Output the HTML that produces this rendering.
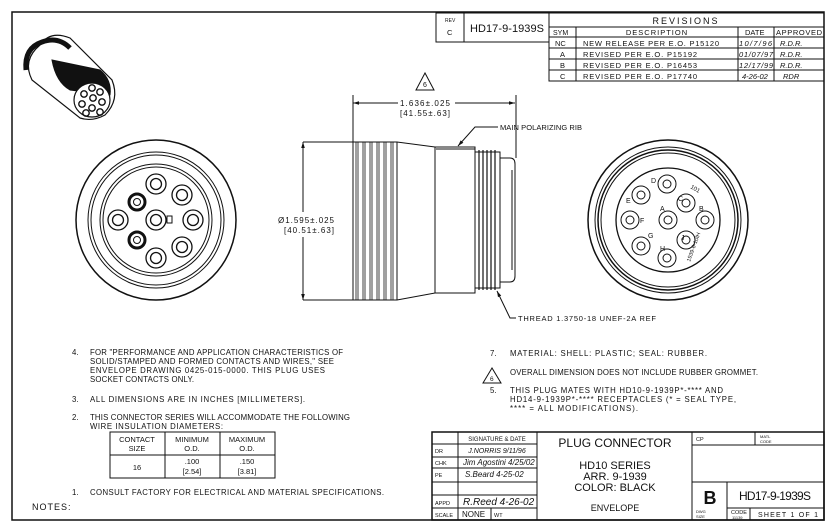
<!DOCTYPE html>
<html><head><meta charset="utf-8"><style>
html,body{margin:0;padding:0;background:#fff;}
svg{display:block;}
text{font-family:"Liberation Sans",sans-serif;fill:#111;}
</style></head><body>
<svg width="836" height="530" viewBox="0 0 836 530" xmlns="http://www.w3.org/2000/svg">
<defs>
<marker id="ar" viewBox="0 0 10 10" refX="10" refY="5" markerWidth="8" markerHeight="6" orient="auto-start-reverse"><path d="M0 2 L10 5 L0 8 Z" fill="#111"/></marker>
</defs>
<g fill="none" stroke="#111" stroke-width="1">
<rect x="12" y="12" width="812" height="508" stroke-width="1.5"/>
<rect x="436" y="13" width="113" height="29"/>
<line x1="464" y1="13" x2="464" y2="42"/>
<rect x="549" y="13" width="275" height="68"/>
<line x1="549" y1="27" x2="824" y2="27"/>
<line x1="549" y1="37" x2="824" y2="37"/>
<line x1="549" y1="48" x2="824" y2="48"/>
<line x1="549" y1="59" x2="824" y2="59"/>
<line x1="549" y1="70" x2="824" y2="70"/>
<line x1="576" y1="27" x2="576" y2="81"/>
<line x1="738" y1="27" x2="738" y2="81"/>
<line x1="774" y1="27" x2="774" y2="81"/>

<line x1="353" y1="103" x2="398" y2="103" marker-start="url(#ar)"/>
<line x1="455" y1="103" x2="515" y2="103" marker-end="url(#ar)"/>
<line x1="353" y1="95" x2="353" y2="142"/>
<line x1="516" y1="95" x2="516" y2="158"/>
<line x1="303" y1="142" x2="353" y2="142"/>
<line x1="303" y1="300" x2="353" y2="300"/>
<line x1="303" y1="142" x2="303" y2="212" marker-start="url(#ar)"/>
<line x1="303" y1="237" x2="303" y2="300" marker-end="url(#ar)"/>
<path d="M353 142 H397 L435 147 H475 V293 H435 L397 300 H353 Z"/>
<line x1="397" y1="142" x2="397" y2="300"/>
<line x1="435" y1="147" x2="435" y2="293"/>
<line x1="436" y1="149" x2="475" y2="149"/>
<g stroke-width="0.8">
<line x1="356" y1="142" x2="356" y2="300"/><line x1="358" y1="142" x2="358" y2="300"/>
<line x1="363" y1="142" x2="363" y2="300"/><line x1="365" y1="142" x2="365" y2="300"/>
<line x1="370" y1="142" x2="370" y2="300"/><line x1="372" y1="142" x2="372" y2="300"/>
<line x1="377" y1="142" x2="377" y2="300"/><line x1="379" y1="142" x2="379" y2="300"/>
<line x1="384" y1="142" x2="384" y2="300"/><line x1="386" y1="142" x2="386" y2="300"/>
<line x1="391" y1="142" x2="391" y2="300"/><line x1="393" y1="142" x2="393" y2="300"/>
</g>
<path d="M475 152 H500 V288 H475"/>
<g stroke-width="1.2">
<line x1="479" y1="150" x2="479" y2="290"/><line x1="483" y1="150" x2="483" y2="290"/>
<line x1="487" y1="150" x2="487" y2="290"/><line x1="491" y1="150" x2="491" y2="290"/>
<line x1="495" y1="150" x2="495" y2="290"/>
</g>
<path d="M500 158 H510 Q515 158 515 164 V276 Q515 282 510 282 H500"/>
<line x1="512" y1="170" x2="512" y2="270"/>
<polyline points="498,127 475,127 458,146" marker-end="url(#ar)"/>
<polyline points="516,318 510,318 497,291" marker-end="url(#ar)"/>
<polygon points="425,73 416,90 434,90"/>
<polygon points="492,368 483,383 501,383"/>

<circle cx="156" cy="220" r="80" stroke-width="1.5"/>
<circle cx="156" cy="220" r="68"/>
<circle cx="156" cy="220" r="65"/>
<circle cx="156" cy="220" r="56"/>
<circle cx="156" cy="220" r="53"/>
<rect x="167" y="216" width="5" height="7"/>
<g stroke-width="1.3">
<circle cx="156" cy="220" r="10"/><circle cx="156" cy="220" r="5.5"/>
<circle cx="156" cy="184" r="10"/><circle cx="156" cy="184" r="5.5"/>
<circle cx="182" cy="195" r="10"/><circle cx="182" cy="195" r="5.5"/>
<circle cx="193" cy="220" r="10"/><circle cx="193" cy="220" r="5.5"/>
<circle cx="182" cy="247" r="10"/><circle cx="182" cy="247" r="5.5"/>
<circle cx="156" cy="258" r="10"/><circle cx="156" cy="258" r="5.5"/>
<circle cx="118" cy="220" r="10"/><circle cx="118" cy="220" r="5.5"/>
</g>
<circle cx="137" cy="202" r="8" stroke-width="3"/><circle cx="137" cy="202" r="3.5"/>
<circle cx="137" cy="240" r="8" stroke-width="3"/><circle cx="137" cy="240" r="3.5"/>

<circle cx="668" cy="220" r="80" stroke-width="1.5"/>
<circle cx="668" cy="220" r="73"/>
<circle cx="668" cy="220" r="70" stroke-width="1.5"/>
<circle cx="668" cy="220" r="67"/>
<circle cx="668" cy="220" r="52" stroke-width="1.3"/>
<g>
<circle cx="668" cy="220" r="9"/><circle cx="668" cy="220" r="4"/>
<circle cx="667" cy="184" r="9"/><circle cx="667" cy="184" r="4"/>
<circle cx="686" cy="203" r="9"/><circle cx="686" cy="203" r="4"/>
<circle cx="705" cy="220" r="9"/><circle cx="705" cy="220" r="4"/>
<circle cx="686" cy="240" r="9"/><circle cx="686" cy="240" r="4"/>
<circle cx="667" cy="258" r="9"/><circle cx="667" cy="258" r="4"/>
<circle cx="641" cy="246" r="9"/><circle cx="641" cy="246" r="4"/>
<circle cx="630" cy="220" r="9"/><circle cx="630" cy="220" r="4"/>
<circle cx="641" cy="195" r="9"/><circle cx="641" cy="195" r="4"/>
</g>

<path d="M40 45 Q50 30 70 38 L112 80 Q120 100 105 115 Q92 122 80 118 L32 80 Q22 60 40 45 Z" stroke-width="1.2"/>
<path d="M26 70 Q24 48 42 42 Q58 36 70 48" stroke-width="5"/>
<path d="M52 60 L100 70 Q112 80 110 95 L70 90 Q56 82 52 60 Z" fill="#111" stroke-width="1"/>
<ellipse cx="92" cy="100" rx="18" ry="17" fill="#fff" stroke-width="1.2"/>
<g stroke-width="1.4">
<circle cx="92" cy="88" r="3.2"/><circle cx="100" cy="92" r="3.2"/><circle cx="84" cy="94" r="3.2"/>
<circle cx="93" cy="98" r="3.2"/><circle cx="102" cy="102" r="3.2"/><circle cx="82" cy="104" r="3.2"/>
<circle cx="92" cy="108" r="3.2"/><circle cx="100" cy="112" r="3.2"/><circle cx="86" cy="113" r="3.2"/>
</g>

<rect x="110" y="432" width="165" height="46"/>
<line x1="110" y1="455" x2="275" y2="455"/>
<line x1="165" y1="432" x2="165" y2="478"/>
<line x1="220" y1="432" x2="220" y2="478"/>

<rect x="432" y="432" width="392" height="88" stroke-width="1.5"/>
<line x1="458" y1="432" x2="458" y2="520"/>
<line x1="537" y1="432" x2="537" y2="520"/>
<line x1="692" y1="432" x2="692" y2="520"/>
<line x1="432" y1="444" x2="537" y2="444"/>
<line x1="432" y1="457" x2="537" y2="457"/>
<line x1="432" y1="468" x2="537" y2="468"/>
<line x1="432" y1="482" x2="537" y2="482"/>
<line x1="432" y1="495" x2="537" y2="495"/>
<line x1="432" y1="508" x2="537" y2="508"/>
<line x1="491" y1="508" x2="491" y2="520"/>
<line x1="692" y1="445" x2="824" y2="445"/>
<line x1="755" y1="432" x2="755" y2="445"/>
<line x1="692" y1="482" x2="824" y2="482"/>
<line x1="727" y1="482" x2="727" y2="520"/>
<line x1="727" y1="508" x2="824" y2="508"/>
<line x1="750" y1="508" x2="750" y2="520"/>
</g>

<g font-size="7.5">
<text x="445" y="22" font-size="5">REV</text>
<text x="447" y="35">C</text>
<text x="470" y="32" font-size="11" textLength="74">HD17-9-1939S</text>
<text x="686" y="24" font-size="9" text-anchor="middle" letter-spacing="2">REVISIONS</text>
<text x="553" y="35" font-size="7">SYM</text>
<text x="657" y="35" text-anchor="middle" letter-spacing="1">DESCRIPTION</text>
<text x="745" y="35">DATE</text>
<text x="776" y="35" textLength="46">APPROVED</text>
<text x="555" y="46">NC</text><text x="583" y="46" textLength="136">NEW RELEASE PER E.O. P15120</text>
<text x="560" y="57">A</text><text x="583" y="57" textLength="114">REVISED PER E.O. P15192</text>
<text x="560" y="68">B</text><text x="583" y="68" textLength="114">REVISED PER E.O. P16453</text>
<text x="560" y="79">C</text><text x="583" y="79" textLength="114">REVISED PER E.O. P17740</text>
<g font-style="italic">
<text x="739" y="46" textLength="33">10/7/96</text><text x="780" y="46">R.D.R.</text>
<text x="739" y="57" textLength="34">01/07/97</text><text x="780" y="57">R.D.R.</text>
<text x="739" y="68" textLength="34">12/17/99</text><text x="780" y="68">R.D.R.</text>
<text x="742" y="79">4-26-02</text><text x="783" y="79">RDR</text>
</g>
</g>

<g font-size="8">
<text x="425" y="87" font-size="7" text-anchor="middle">6</text>
<text x="425" y="106" text-anchor="middle" textLength="50">1.636±.025</text>
<text x="425" y="116" text-anchor="middle" textLength="50">[41.55±.63]</text>
<text x="278" y="223" textLength="56">Ø1.595±.025</text>
<text x="284" y="233" textLength="50">[40.51±.63]</text>
<text x="500" y="130" textLength="82" font-size="7.5">MAIN POLARIZING RIB</text>
<text x="518" y="321" textLength="138" font-size="7.5">THREAD 1.3750-18 UNEF-2A REF</text>
</g>
<g font-size="7">
<text x="651" y="183">D</text><text x="678" y="201">C</text><text x="699" y="211">B</text>
<text x="660" y="211">A</text><text x="626" y="203">E</text><text x="640" y="223">F</text>
<text x="648" y="238">G</text><text x="681" y="240">J</text><text x="660" y="251">H</text>
<text x="690" y="188" font-size="6" transform="rotate(30 690 188)">101</text>
<text x="690" y="262" font-size="5.5" transform="rotate(-70 690 262)">1939-6-10IH</text>
</g>

<g font-size="7.8">
<text x="72" y="355">4.</text>
<text x="90" y="355" textLength="253">FOR "PERFORMANCE AND APPLICATION CHARACTERISTICS OF</text>
<text x="90" y="364" textLength="244">SOLID/STAMPED AND FORMED CONTACTS AND WIRES," SEE</text>
<text x="90" y="373" textLength="235">ENVELOPE DRAWING 0425-015-0000.  THIS PLUG USES</text>
<text x="90" y="382" textLength="104">SOCKET CONTACTS ONLY.</text>
<text x="72" y="402">3.</text>
<text x="90" y="402" textLength="215">ALL DIMENSIONS ARE IN INCHES [MILLIMETERS].</text>
<text x="72" y="420">2.</text>
<text x="90" y="420" textLength="260">THIS CONNECTOR SERIES WILL ACCOMMODATE THE FOLLOWING</text>
<text x="90" y="429" textLength="133">WIRE INSULATION DIAMETERS:</text>
<g font-size="7.5" text-anchor="middle">
<text x="137" y="442">CONTACT</text><text x="137" y="451">SIZE</text>
<text x="192" y="442">MINIMUM</text><text x="192" y="451">O.D.</text>
<text x="247" y="442">MAXIMUM</text><text x="247" y="451">O.D.</text>
<text x="137" y="470">16</text>
<text x="192" y="464">.100</text><text x="192" y="474">[2.54]</text>
<text x="247" y="464">.150</text><text x="247" y="474">[3.81]</text>
</g>
<text x="72" y="495">1.</text>
<text x="90" y="495" textLength="294">CONSULT FACTORY FOR ELECTRICAL AND MATERIAL SPECIFICATIONS.</text>
<text x="32" y="510" font-size="9" letter-spacing="1">NOTES:</text>
</g>
<g font-size="7.8">
<text x="490" y="356">7.</text>
<text x="510" y="356" textLength="197">MATERIAL: SHELL: PLASTIC; SEAL: RUBBER.</text>
<text x="490" y="381" font-size="6.5">6</text>
<text x="510" y="375" textLength="248">OVERALL DIMENSION DOES NOT INCLUDE RUBBER GROMMET.</text>
<text x="490" y="393">5.</text>
<text x="510" y="393" textLength="213">THIS PLUG MATES WITH HD10-9-1939P*-**** AND</text>
<text x="510" y="402" textLength="226">HD14-9-1939P*-**** RECEPTACLES (* = SEAL TYPE,</text>
<text x="510" y="411" textLength="128">**** = ALL MODIFICATIONS).</text>
</g>

<g font-size="5.5">
<text x="497" y="441" text-anchor="middle" font-size="6">SIGNATURE &amp; DATE</text>
<text x="435" y="453">DR</text><text x="497" y="453" text-anchor="middle" font-style="italic" font-size="7">J.NORRIS 9/11/96</text>
<text x="435" y="465">CHK</text><text x="463" y="465" font-style="italic" font-size="8">Jim Agostini 4/25/02</text>
<text x="435" y="477">PE</text><text x="465" y="477" font-style="italic" font-size="8">S.Beard 4-25-02</text>
<text x="435" y="505">APPD</text><text x="463" y="505" font-style="italic" font-size="10">R.Reed 4-26-02</text>
<text x="435" y="517">SCALE</text><text x="462" y="517" font-size="8">NONE</text><text x="494" y="517">WT</text>
<text x="696" y="441">CP</text><text x="760" y="438" font-size="4">MATL</text><text x="760" y="443" font-size="4">CODE</text>
<text x="696" y="513" font-size="4">DWG</text><text x="696" y="518" font-size="4">SIZE</text>
<text x="731" y="514" font-size="5.5">CODE</text><text x="732" y="519" font-size="4">11139</text>
<text x="758" y="517" font-size="7" textLength="60">SHEET  1  OF  1</text>
</g>
<g font-size="11" text-anchor="middle">
<text x="615" y="447" font-size="12">PLUG CONNECTOR</text>
<text x="615" y="469">HD10 SERIES</text>
<text x="615" y="480">ARR. 9-1939</text>
<text x="615" y="491">COLOR: BLACK</text>
<text x="615" y="511" font-size="9">ENVELOPE</text>
<text x="710" y="504" font-size="18" font-weight="bold">B</text>
<text x="775" y="500" font-size="12" textLength="72">HD17-9-1939S</text>
</g>
</svg>
</body></html>
